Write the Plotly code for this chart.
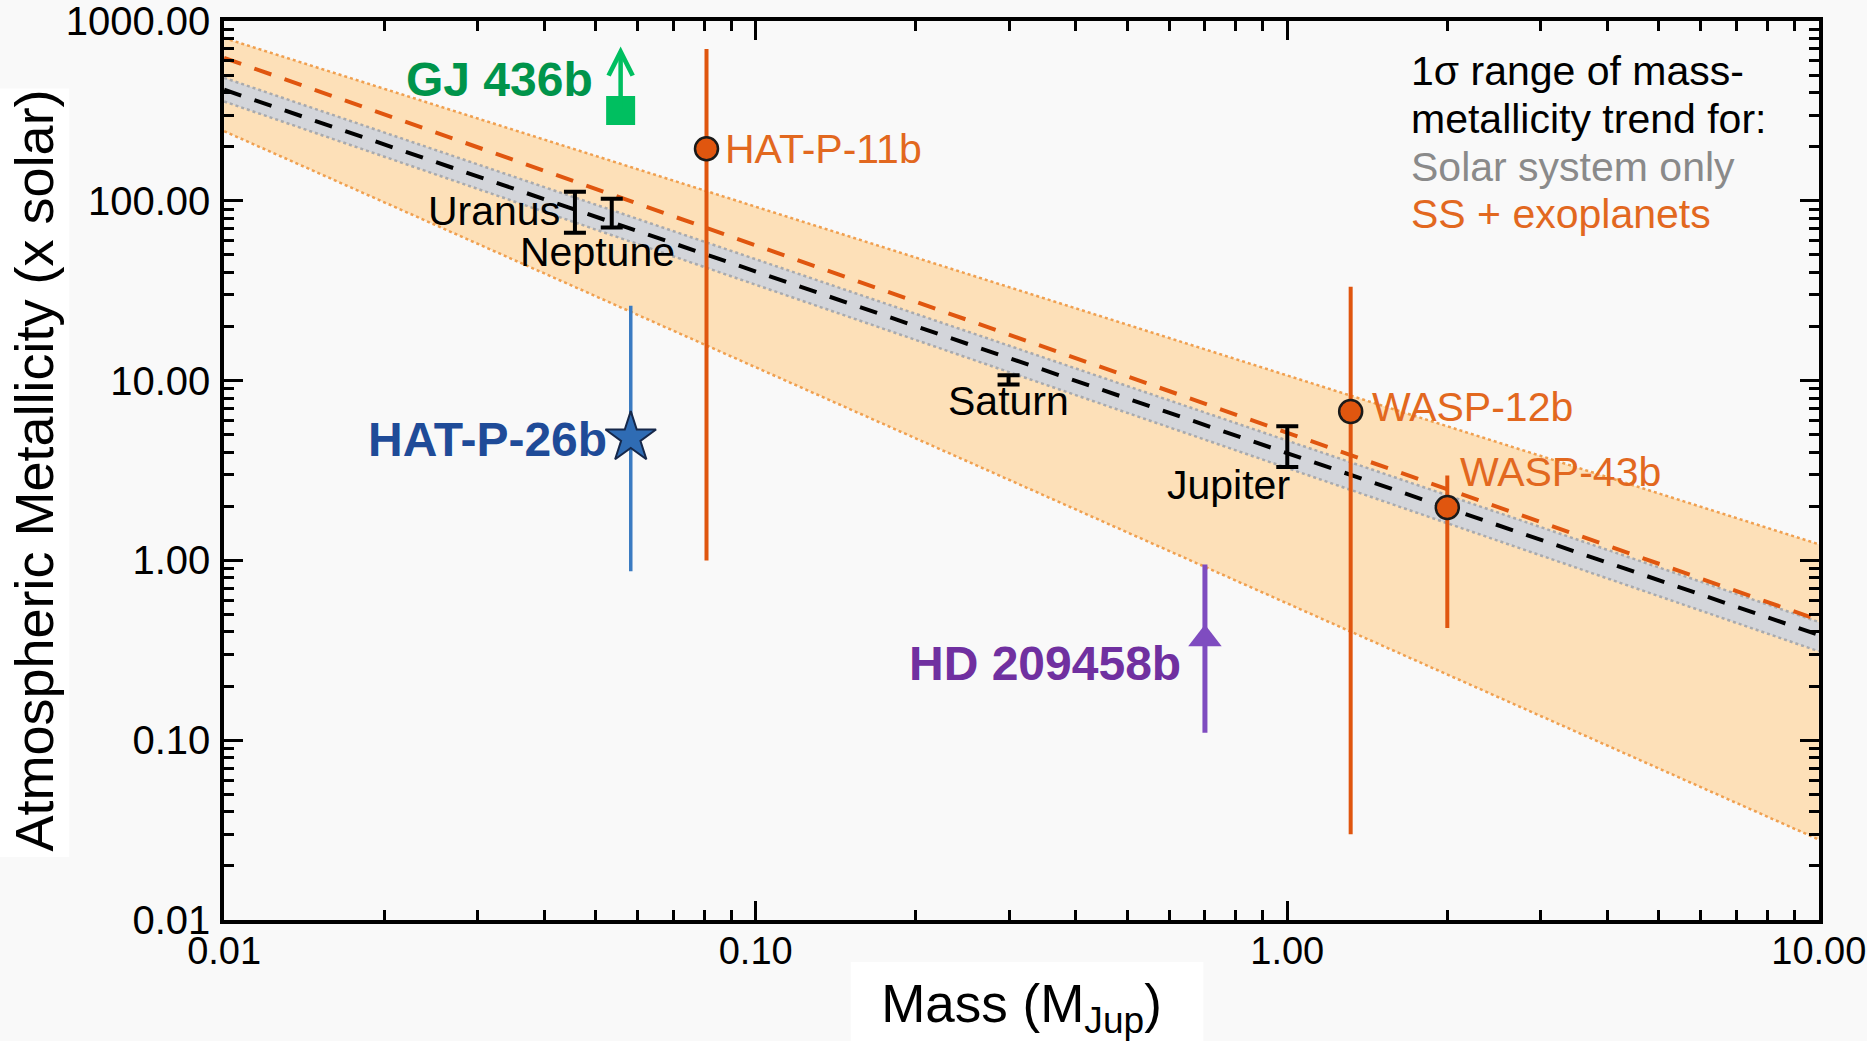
import numpy as np
import plotly.graph_objects as go

# ---------------- data ----------------
band_mass = [0.01, 10.0]                 # M_Jup, ends of the trend bands
ss_exo_upper = [805.0, 1.23]             # SS + exoplanets 1-sigma upper edge
ss_exo_lower = [244.0, 0.028]            # SS + exoplanets 1-sigma lower edge
ss_exo_fit = [624.0, 0.465]              # SS + exoplanets best fit
ss_upper = [483.0, 0.454]                # Solar system only upper edge
ss_lower = [357.0, 0.312]                # Solar system only lower edge
ss_fit = [415.0, 0.385]                  # Solar system only best fit

ss_names = ["Uranus", "Neptune", "Saturn", "Jupiter"]
ss_mass = [0.0457, 0.0536, 0.299, 1.0]
ss_lo = [66.5, 71.0, 9.5, 3.31]
ss_hi = [112.5, 102.8, 10.7, 5.57]

exo_names = ["HAT-P-11b", "WASP-12b", "WASP-43b"]
exo_mass = [0.0808, 1.316, 2.0]
exo_z = [195.0, 6.74, 1.97]
exo_lo = [1.0, 0.030, 0.42]
exo_hi = [700.0, 33.3, 2.97]

hp26_name = "HAT-P-26b"
hp26_mass = [0.0582]
hp26_z = [4.81]
hp26_lo = [0.87]
hp26_hi = [26.1]

gj_name = "GJ 436b"
gj_mass = [0.0557]
gj_z = [318.0]
gj_limit_tip = [723.0]

hd_name = "HD 209458b"
hd_mass = [0.70]
hd_lo = [0.11]
hd_hi = [0.95]
hd_head = [0.365]

x_tickvals = [0.01, 0.1, 1.0, 10.0]
x_ticktext = ["0.01", "0.10", "1.00", "10.00"]
y_tickvals = [0.01, 0.1, 1.0, 10.0, 100.0, 1000.0]
y_ticktext = ["0.01", "0.10", "1.00", "10.00", "100.00", "1000.00"]

x_title = "Mass (M<sub>Jup</sub>)"
y_title = "Atmospheric Metallicity (x solar)"
legend_lines = ["1σ range of mass-", "metallicity trend for:", "Solar system only", "SS + exoplanets"]

# ---------------- style ----------------
ORANGE = "#e0560f"
ORANGE_TXT = "#e2681f"
BAND_OR = "rgba(253,224,184,1)"
BAND_GR = "rgba(211,213,218,1)"
REG = "Liberation Sans, Arial, Helvetica, sans-serif"

fig = go.Figure()

# SS + exoplanets band
fig.add_trace(go.Scatter(x=band_mass, y=ss_exo_lower, mode="lines",
                         line=dict(color="#f0a050", width=2.5, dash="dot"), showlegend=False, hoverinfo="skip"))
fig.add_trace(go.Scatter(x=band_mass, y=ss_exo_upper, mode="lines", fill="tonexty", fillcolor=BAND_OR,
                         line=dict(color="#f0a050", width=2.5, dash="dot"), showlegend=False, hoverinfo="skip"))
# Solar-system-only band
fig.add_trace(go.Scatter(x=band_mass, y=ss_lower, mode="lines",
                         line=dict(color="#a9aaad", width=2.5, dash="dot"), showlegend=False, hoverinfo="skip"))
fig.add_trace(go.Scatter(x=band_mass, y=ss_upper, mode="lines", fill="tonexty", fillcolor=BAND_GR,
                         line=dict(color="#a9aaad", width=2.5, dash="dot"), showlegend=False, hoverinfo="skip"))
# fits
fig.add_trace(go.Scatter(x=band_mass, y=ss_exo_fit, mode="lines",
                         line=dict(color=ORANGE, width=4, dash="18px,14px"), showlegend=False))
fig.add_trace(go.Scatter(x=band_mass, y=ss_fit, mode="lines",
                         line=dict(color="black", width=4, dash="18px,14px"), showlegend=False))

# Solar system planets (error bars with caps)
ss_mid = [np.sqrt(a * b) for a, b in zip(ss_lo, ss_hi)]
fig.add_trace(go.Scatter(
    x=ss_mass, y=ss_mid, mode="markers", marker=dict(size=2, color="black", opacity=0),
    error_y=dict(type="data", symmetric=False,
                 array=[h - m for h, m in zip(ss_hi, ss_mid)],
                 arrayminus=[m - l for m, l in zip(ss_mid, ss_lo)],
                 color="black", thickness=4, width=11),
    showlegend=False))

# HAT-P-26b
fig.add_trace(go.Scatter(
    x=hp26_mass, y=hp26_z, mode="markers",
    marker=dict(symbol="star", size=38, color="#2f6cb4", line=dict(color="#16284a", width=2)),
    error_y=dict(type="data", symmetric=False,
                 array=[h - z for h, z in zip(hp26_hi, hp26_z)],
                 arrayminus=[z - l for z, l in zip(hp26_z, hp26_lo)],
                 color="#3a7bc2", thickness=3.5, width=0),
    showlegend=False))

# exoplanets (orange)
fig.add_trace(go.Scatter(
    x=exo_mass, y=exo_z, mode="markers",
    marker=dict(symbol="circle", size=23, color=ORANGE, line=dict(color="#1a1a1a", width=2.5)),
    error_y=dict(type="data", symmetric=False,
                 array=[h - z for h, z in zip(exo_hi, exo_z)],
                 arrayminus=[z - l for z, l in zip(exo_z, exo_lo)],
                 color=ORANGE, thickness=4, width=0),
    showlegend=False))

# GJ 436b lower limit (square)
fig.add_trace(go.Scatter(x=gj_mass, y=gj_z, mode="markers",
                         marker=dict(symbol="square", size=29, color="#00bf60"), showlegend=False))

# HD 209458b lower limit (line + arrowhead)
fig.add_trace(go.Scatter(x=hd_mass * 2, y=[hd_lo[0], hd_hi[0]], mode="lines",
                         line=dict(color="#7f4cc0", width=5), showlegend=False))
fig.add_trace(go.Scatter(x=hd_mass, y=hd_head, mode="markers",
                         marker=dict(symbol="triangle-up", size=29, color="#7f4cc0"), showlegend=False))

ann = []
# GJ 436b arrow
ann.append(dict(x=np.log10(gj_mass[0]), y=np.log10(gj_limit_tip[0]), xref="x", yref="y",
                ax=np.log10(gj_mass[0]), ay=np.log10(gj_z[0]), axref="x", ayref="y",
                showarrow=True, arrowhead=5, arrowsize=1.05, arrowwidth=4.5, arrowcolor="#00bf60",
                text=""))

def lab(name, xv, yv, xs, ys, anchor, color, size=41, bold=False):
    f = dict(family=REG, size=size, color=color)
    if bold:
        f["weight"] = "bold"
    return dict(x=np.log10(xv), y=np.log10(yv), xref="x", yref="y", text=name, showarrow=False,
                xanchor=anchor, yanchor="middle", xshift=xs, yshift=ys, font=f)

ann.append(lab(ss_names[0], ss_mass[0], ss_mid[0], -13, 1, "right", "black"))
ann.append(lab(ss_names[1], ss_mass[1], ss_mid[1], -14, -39, "center", "black"))
ann.append(lab(ss_names[2], ss_mass[2], ss_mid[2], 0, -21, "center", "black"))
ann.append(lab(ss_names[3], ss_mass[3], ss_mid[3], 5, -38, "right", "black"))
ann.append(lab(exo_names[0], exo_mass[0], exo_z[0], 16, 0, "left", ORANGE_TXT))
ann.append(lab(exo_names[1], exo_mass[1], exo_z[1], 19, 4, "left", ORANGE_TXT))
ann.append(lab(exo_names[2], exo_mass[2], exo_z[2], 11, 35, "left", ORANGE_TXT))
ann.append(lab(hp26_name, hp26_mass[0], hp26_z[0], -22, -2, "right", "#1f4b98", 48, True))
ann.append(lab(gj_name, gj_mass[0], gj_z[0], -26, 31, "right", "#00944b", 48, True))
ann.append(lab(hd_name, hd_mass[0], hd_head[0], -22, -24, "right", "#7030a0", 48, True))

# legend text block
leg_colors = ["black", "black", "#8a8a8a", ORANGE_TXT]
leg_y = [0.9439, 0.8910, 0.8379, 0.7849]
for t, c, yy in zip(legend_lines, leg_colors, leg_y):
    ann.append(dict(x=0.7427, y=yy, xref="paper", yref="paper", text=t, showarrow=False,
                    xanchor="left", yanchor="middle", font=dict(family=REG, size=41, color=c)))

# y axis title (placed as rotated text beside the tick labels)
ann.append(dict(x=-0.1197, y=0.5, xref="paper", yref="paper", text=y_title, showarrow=False,
                textangle=-90, xanchor="center", yanchor="middle",
                font=dict(family=REG, size=54, color="black")))

axis_common = dict(type="log", showgrid=False, zeroline=False, showline=True, linecolor="black",
                   linewidth=3.5, mirror="ticks", ticks="inside", tickwidth=3, tickcolor="black",
                   ticklen=19, automargin=False, ticklabeloverflow="allow",
                   minor=dict(ticks="inside", ticklen=10, tickwidth=2.5, tickcolor="black", dtick="D1",
                              showgrid=False))

fig.update_layout(
    width=1867, height=1041, autosize=False,
    margin=dict(l=224, r=48, t=21, b=121),
    paper_bgcolor="#f9f9f9", plot_bgcolor="#f9f9f9",
    showlegend=False,
    annotations=ann,
    shapes=[
        dict(type="rect", xref="paper", yref="paper", x0=0.393, x1=0.614, y0=-0.135, y1=-0.0467,
             fillcolor="white", line=dict(width=0), layer="below"),
        dict(type="rect", xref="paper", yref="paper", x0=-0.141, x1=-0.097, y0=0.07, y1=0.925,
             fillcolor="white", line=dict(width=0), layer="below"),
    ],
    xaxis=dict(**axis_common, range=[-2.0003, 1.0003], tickvals=x_tickvals, ticktext=x_ticktext,
               tickfont=dict(family=REG, size=38, color="black"),
               ticklabelstandoff=-5,
               title=dict(text=x_title, font=dict(family=REG, size=53, color="black"),
                          standoff=16)),
    yaxis=dict(**axis_common, range=[-2.0003, 3.0003], tickvals=y_tickvals, ticktext=y_ticktext,
               tickfont=dict(family=REG, size=40, color="black"),
               ticklabelstandoff=2),
)

fig.write_html("out.html", config={"displayModeBar": False},
               post_script="document.body.style.margin='0px';")
